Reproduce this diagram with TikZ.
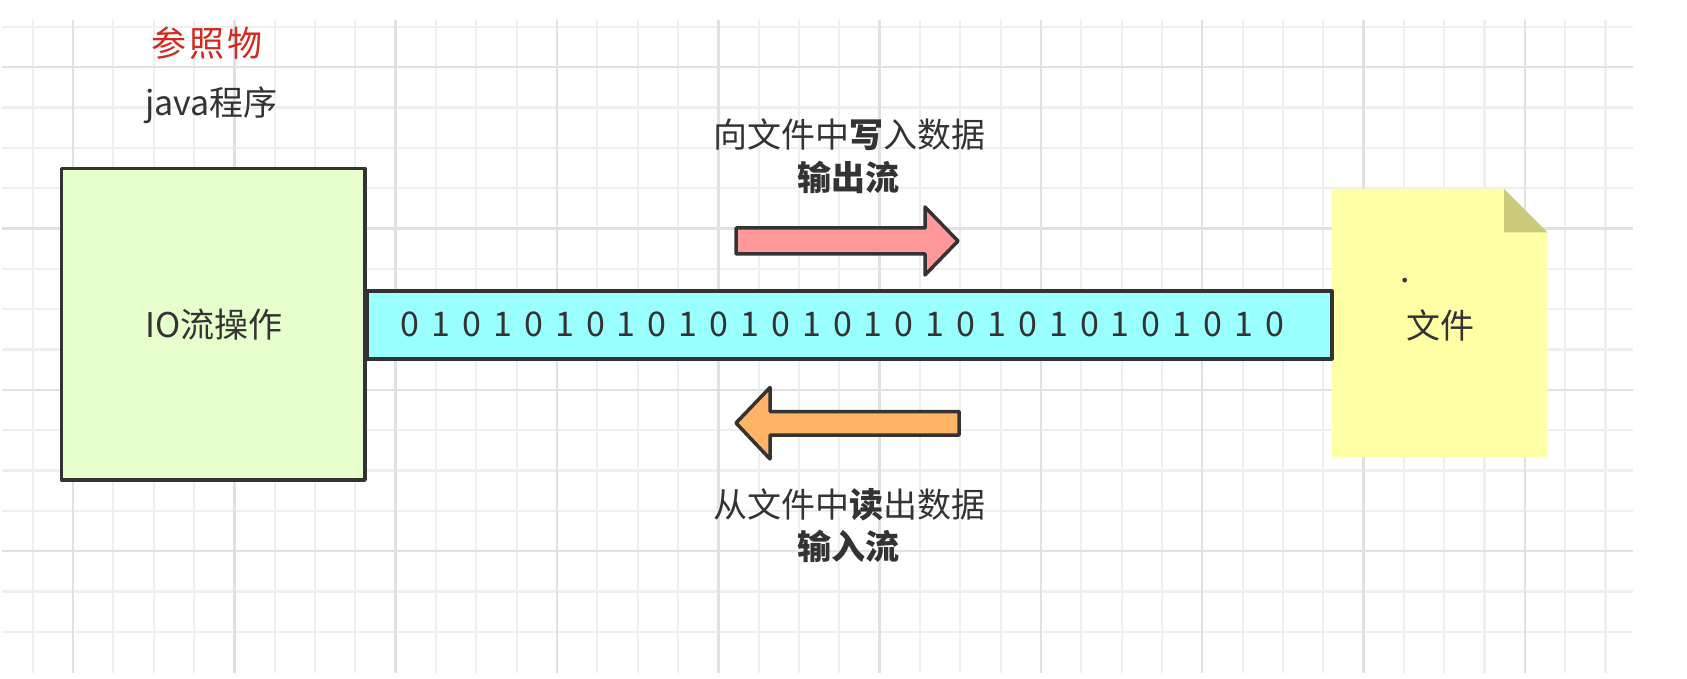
\documentclass[tikz,border=0pt]{standalone}
\usepackage{fontspec}
\setmainfont{Noto Sans CJK SC}
\definecolor{ink}{HTML}{333333}
\definecolor{gridminorc}{HTML}{EFEFEF}
\definecolor{gridmajorc}{HTML}{E1E1E1}
\definecolor{boxgreen}{HTML}{E6FFCC}
\definecolor{barcyan}{HTML}{99FFFF}
\definecolor{notey}{HTML}{FFFFA6}
\definecolor{notefold}{HTML}{CACA7A}
\definecolor{arrred}{HTML}{FF9999}
\definecolor{arrorange}{HTML}{FFB366}
\definecolor{refred}{HTML}{D42A1E}
\newcommand\fszmain{\fontsize{34}{40}\selectfont}
\begin{document}
\begin{tikzpicture}[x=1pt,y=-1pt,
  gminor/.style={draw=gridminorc,line width=2.2pt},
  gmajor/.style={draw=gridmajorc,line width=2.4pt},
  blockbox/.style={draw=ink,line width=3.5pt,line join=round,inner sep=0pt},
  fatarrow/.style={draw=ink,line width=3.5pt,line join=round},
  lbl/.style={text=ink,font=\fszmain,inner sep=0pt}]
\useasboundingbox (0,0) rectangle (1687,679);
\fill[white] (0,0) rectangle (1687,679);
% grid
\foreach \k in {0,...,39} {\draw[gminor] ({32.7+40.33*\k},20) -- ({32.7+40.33*\k},672.7);}
\foreach \k in {0,...,15} {\draw[gminor] (2,{26.9+40.33*\k}) -- (1632.7,{26.9+40.33*\k});}
\foreach \k in {1,5,...,37} {\draw[gmajor] ({32.7+40.33*\k},20) -- ({32.7+40.33*\k},672.7);}
\foreach \k in {1,5,9,13} {\draw[gmajor] (2,{26.9+40.33*\k}) -- (1632.7,{26.9+40.33*\k});}
% file note
\fill[notey] (1331.7,189) -- (1504,189) -- (1547.3,232.3) -- (1547.3,457.3) -- (1331.7,457.3) -- cycle;
\fill[notefold] (1504,189) -- (1504,232.3) -- (1547.3,232.3) -- cycle;
\node[lbl] (filetxt) at (1440,325) {文件};
\node[lbl] (filedot) at (1405,281) {.};
% IO box and bar
\node[blockbox,fill=boxgreen,minimum width=303.5pt,minimum height=311.7pt] (io) at (213.25,324.15) {};
\node[lbl] (iotxt) at (214,325) {IO流操作};
\node[blockbox,fill=barcyan,minimum width=965pt,minimum height=68pt,anchor=west] (bar) at (365,325) {};
\node[lbl] (bits) at (842.5,324) {\spaceskip=12pt\relax 0 1 0 1 0 1 0 1 0 1 0 1 0 1 0 1 0 1 0 1 0 1 0 1 0 1 0 1 0};
% arrows
\draw[fatarrow,fill=arrred] (736,228) -- (925,228) -- (925,207) -- (958,241) -- (925,275) -- (925,254) -- (736,254) -- cycle;
\draw[fatarrow,fill=arrorange] (959,411.5) -- (770,411.5) -- (770,387.5) -- (736,423) -- (770,459) -- (770,435) -- (959,435) -- cycle;
% labels
\node[lbl,text=refred,font=\fontsize{35}{40}\selectfont\addfontfeature{LetterSpace=8}] (ref) at (207,43) {参照物};
\node[lbl] (java) at (211.5,105) {java程序};
\node[lbl] (wline) at (849,135) {向文件中\textbf{写}入数据};
\node[lbl,font=\fszmain\bfseries] (wout) at (848,177) {输出流};
\node[lbl] (rline) at (849,505) {从文件中\textbf{读}出数据};
\node[lbl,font=\fszmain\bfseries] (rin) at (848,546.5) {输入流};
\end{tikzpicture}
\end{document}
